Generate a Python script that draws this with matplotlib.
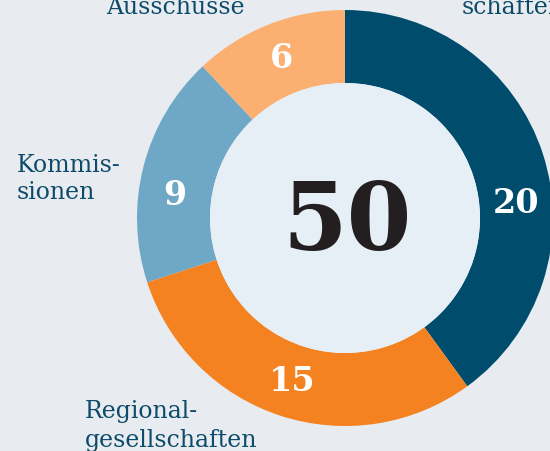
import matplotlib
matplotlib.use("Agg")
import matplotlib.pyplot as plt
from matplotlib.patches import Circle
import numpy as np

# Data
categories = ["Mitgliedschaften", "Regionalgesellschaften", "Kommissionen", "Ausschüsse"]
values = [20, 15, 9, 6]
total_label = "50"
colors = ["#004c6d", "#f58220", "#6fa8c6", "#fbb072"]

BG = "#e8ecf0"
INNER = "#e6eff5"
TXT = "#0d4b6a"

W, H = 550, 451
fig = plt.figure(figsize=(W / 100, H / 100), dpi=100)
fig.patch.set_facecolor(BG)
ax = fig.add_axes([0, 0, 1, 1])
ax.set_xlim(0, W)
ax.set_ylim(0, H)
ax.set_aspect("equal")
ax.axis("off")

cx, cy = 345, H - 218
R_out, R_in = 208, 135

wedges, _ = ax.pie(values, colors=colors, startangle=90, counterclock=False,
                   radius=R_out, center=(cx, cy),
                   wedgeprops=dict(width=R_out - R_in, linewidth=0))
ax.set_xlim(0, W)
ax.set_ylim(0, H)
ax.add_patch(Circle((cx, cy), R_in, facecolor=INNER, edgecolor="none", zorder=3))

serif = ["DejaVu Serif"]

# value labels inside ring
angle_shift = [-13, 0, 7, 0]  # label placement tweaks (degrees)
r_mid = (R_out + R_in) / 2
for w, v, sh in zip(wedges, values, angle_shift):
    a = np.deg2rad((w.theta1 + w.theta2) / 2 + sh)
    ax.text(cx + r_mid * np.cos(a), cy + r_mid * np.sin(a), str(v),
            ha="center", va="center", color="white", fontsize=24,
            fontweight="bold", family=serif, zorder=5)

ax.text(cx + 2, cy - 6, total_label, ha="center", va="center", color="#231f20",
        fontsize=67, fontweight="bold", family=serif, zorder=5)

# outside category labels (line by line)
def lbl(x, y, s, ha="left"):
    ax.text(x, H - y, s, ha=ha, va="baseline", color=TXT, fontsize=17,
            family=serif, zorder=5)

lbl(175, 14, "Ausschüsse", ha="center")
lbl(462, 14, "schaften")
lbl(17, 172, "Kommis-")
lbl(17, 199, "sionen")
lbl(85, 418, "Regional-")
lbl(85, 447, "gesellschaften")

fig.savefig("out.png", dpi=100, facecolor=BG)
